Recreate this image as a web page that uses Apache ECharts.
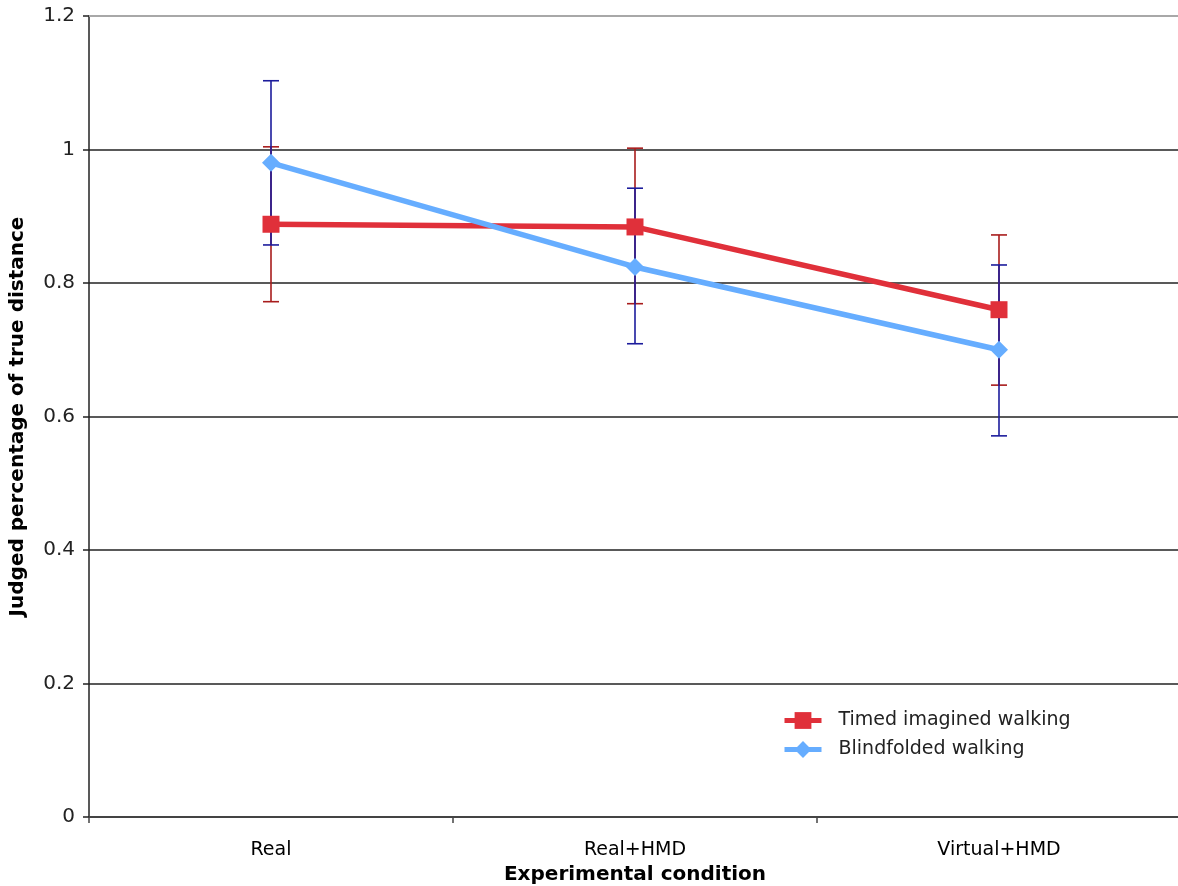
<!DOCTYPE html>
<html>
<head>
<meta charset="utf-8">
<script src="https://cdn.jsdelivr.net/npm/echarts@6/dist/echarts.min.js"></script>
<style>
  html, body { margin: 0; padding: 0; background: #fff; }
  #chart { width: 1178px; height: 886px; }
</style>
</head>
<body>
<div id="chart"></div>
<script>
// Experimental conditions along the x axis
var conditions = ['Real', 'Real+HMD', 'Virtual+HMD'];

// Mean judged proportion of true distance, per method
var timedMean = [0.888, 0.884, 0.760];
var timedLow  = [0.772, 0.769, 0.647];
var timedHigh = [1.004, 1.002, 0.872];

var blindMean = [0.980, 0.824, 0.700];
var blindLow  = [0.857, 0.709, 0.571];
var blindHigh = [1.103, 0.942, 0.827];

var yTicks = [0, 0.2, 0.4, 0.6, 0.8, 1, 1.2];

var FONT = '"DejaVu Sans", Verdana, sans-serif';

function errorData(low, high) {
  return conditions.map(function (c, i) { return [i, low[i], high[i]]; });
}

// vertical whisker with caps at both ends
function errorRender(color) {
  return function (params, api) {
    var lo = api.coord([api.value(0), api.value(1)]);
    var hi = api.coord([api.value(0), api.value(2)]);
    var half = 8;
    var style = { stroke: color, lineWidth: 1.6, fill: null };
    return {
      type: 'group',
      children: [
        { type: 'line', shape: { x1: hi[0], y1: hi[1], x2: lo[0], y2: lo[1] }, style: style },
        { type: 'line', shape: { x1: hi[0] - half, y1: hi[1], x2: hi[0] + half, y2: hi[1] }, style: style },
        { type: 'line', shape: { x1: lo[0] - half, y1: lo[1], x2: lo[0] + half, y2: lo[1] }, style: style }
      ]
    };
  };
}

var chart = echarts.init(document.getElementById('chart'), null, { renderer: 'canvas' });

chart.setOption({
  backgroundColor: '#fff',
  animation: false,
  textStyle: { fontFamily: FONT },
  grid: {
    left: 89, right: -3, top: 16, bottom: 69,
    containLabel: false,
    outerBoundsMode: 'none'
  },
  legend: {
    left: 782,
    top: 711,
    padding: 0,
    orient: 'vertical',
    itemGap: 10,
    itemWidth: 37,
    itemHeight: 21,
    lineStyle: { width: 5 },
    textStyle: { fontFamily: FONT, fontSize: 19, color: '#222', padding: [0, 0, 0, 12] },
    data: ['Timed imagined walking', 'Blindfolded walking']
  },
  xAxis: {
    type: 'category',
    data: conditions,
    boundaryGap: true,
    name: 'Experimental condition',
    nameLocation: 'middle',
    nameGap: 42,
    nameTextStyle: { fontFamily: FONT, fontSize: 20, fontWeight: 'bold', color: '#000' },
    axisLine: { lineStyle: { color: '#444', width: 2 } },
    axisTick: { show: true, length: 6, lineStyle: { color: '#444', width: 1.5 } },
    axisLabel: { fontFamily: FONT, fontSize: 19, color: '#000', margin: 24 },
    splitLine: { show: false }
  },
  yAxis: {
    type: 'value',
    min: 0,
    max: 1.2,
    interval: 0.2,
    name: 'Judged percentage of true distance',
    nameLocation: 'middle',
    nameGap: 61,
    nameRotate: 90,
    nameTextStyle: { fontFamily: FONT, fontSize: 20, fontWeight: 'bold', color: '#000' },
    axisLine: { show: true, lineStyle: { color: '#222', width: 1.5 } },
    axisTick: { show: true, inside: false, length: 6, lineStyle: { color: '#222', width: 1.5 } },
    axisLabel: {
      fontFamily: FONT, fontSize: 20, color: '#222', margin: 14,
      formatter: function (v) {
        var t = yTicks.find(function (k) { return Math.abs(k - v) < 1e-6; });
        return t === undefined ? '' : String(t);
      }
    },
    splitLine: { show: true, lineStyle: { width: 1.5, color: '#222' } }
  },
  series: [
    {
      name: 'Timed error',
      type: 'custom',
      renderItem: errorRender('#a81c1c'),
      data: errorData(timedLow, timedHigh),
      encode: { x: 0, y: [1, 2] },
      z: 3,
      silent: true
    },
    {
      name: 'Blind error',
      type: 'custom',
      renderItem: errorRender('#1c1c9c'),
      data: errorData(blindLow, blindHigh),
      encode: { x: 0, y: [1, 2] },
      z: 4,
      silent: true
    },
    {
      name: 'Timed imagined walking',
      type: 'line',
      data: timedMean,
      symbol: 'rect',
      symbolSize: 17,
      itemStyle: { color: '#e0303a' },
      lineStyle: { color: '#e0303a', width: 5.5 },
      z: 5
    },
    {
      name: 'Blindfolded walking',
      type: 'line',
      data: blindMean,
      symbol: 'diamond',
      symbolSize: 18,
      itemStyle: { color: '#66adff' },
      lineStyle: { color: '#66adff', width: 5.5 },
      z: 6
    }
  ],
  graphic: [
    // lighter top border line at 1.2
    {
      type: 'line',
      shape: { x1: 89, y1: 16, x2: 1178, y2: 16 },
      style: { stroke: '#a8a8a8', lineWidth: 2 },
      z: 10
    }
  ]
});
</script>
</body>
</html>
